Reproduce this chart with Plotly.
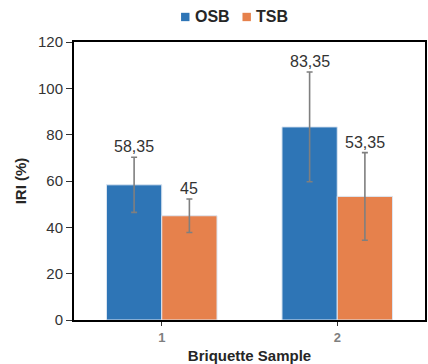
import plotly.graph_objects as go

samples = ["1", "2"]
osb_values = [58.35, 83.35]
tsb_values = [45, 53.35]
osb_err = [11.9, 23.7]
tsb_err = [7.2, 18.9]

OSB_COLOR = "#2E75B6"
TSB_COLOR = "#E6814C"
ERR_COLOR = "#7F7F7F"
FONT = "Liberation Sans, Arial, sans-serif"


def fmt(v):
    s = f"{v:g}"
    return s.replace(".", ",")


fig = go.Figure()
for name, vals, errs, color in [
    ("OSB", osb_values, osb_err, OSB_COLOR),
    ("TSB", tsb_values, tsb_err, TSB_COLOR),
]:
    fig.add_trace(go.Bar(
        name=name, x=samples, y=vals, showlegend=False,
        marker=dict(color=color, line=dict(color="#DCE6F2", width=1)),
        error_y=dict(type="data", array=errs, visible=True,
                     color=ERR_COLOR, thickness=1.6, width=3),
    ))

# value labels above each error bar cap
offsets = {"OSB": -0.5, "TSB": 0.5}
for name, vals, errs in [("OSB", osb_values, osb_err), ("TSB", tsb_values, tsb_err)]:
    for i, (v, e) in enumerate(zip(vals, errs)):
        fig.add_annotation(
            x=i + offsets[name] * 0.315, y=v + e, xref="x", yref="y",
            text=fmt(v), showarrow=False, yanchor="bottom", yshift=0,
            font=dict(family=FONT, size=16, color="#333333"),
        )

# legend row above the plot: small square key + bold label
legend_items = [("OSB", OSB_COLOR, 0.305), ("TSB", TSB_COLOR, 0.48)]
for name, color, xpos in legend_items:
    fig.add_shape(
        type="rect", xref="paper", yref="paper",
        x0=xpos, x1=xpos + 0.024, y0=1.075, y1=1.105,
        fillcolor=color, line=dict(width=0),
    )
    fig.add_annotation(
        x=xpos + 0.034, y=1.09, xref="paper", yref="paper", showarrow=False,
        text=f"<b>{name}</b>", xanchor="left", yanchor="middle",
        font=dict(family=FONT, size=16, color="#262626"),
    )

fig.update_layout(
    width=428, height=364,
    margin=dict(l=74, r=1, t=42, b=44),
    paper_bgcolor="white", plot_bgcolor="white",
    barmode="group", bargap=0.37, bargroupgap=0,
    font=dict(family=FONT, color="#333333"),
    showlegend=False,
)

fig.update_xaxes(
    type="category", range=[-0.5, 1.5],
    showline=True, linecolor="black", linewidth=2, mirror=True,
    ticks="outside", ticklen=4, tickcolor="#333333",
    tickfont=dict(family=FONT, size=13, color="#7F7F7F", weight="bold"),
    title=dict(text="Briquette Sample", standoff=7,
               font=dict(family=FONT, size=15, color="#262626", weight="bold")),
)
fig.update_yaxes(
    range=[0, 120], dtick=20, showgrid=False, zeroline=False,
    showline=True, linecolor="black", linewidth=2, mirror=True,
    ticks="outside", ticklen=6, tickcolor="#333333",
    tickfont=dict(family=FONT, size=15, color="#333333"),
    title=dict(text="IRI (%)", standoff=8,
               font=dict(family=FONT, size=15, color="#262626", weight="bold")),
)

fig.write_html("out.html")
